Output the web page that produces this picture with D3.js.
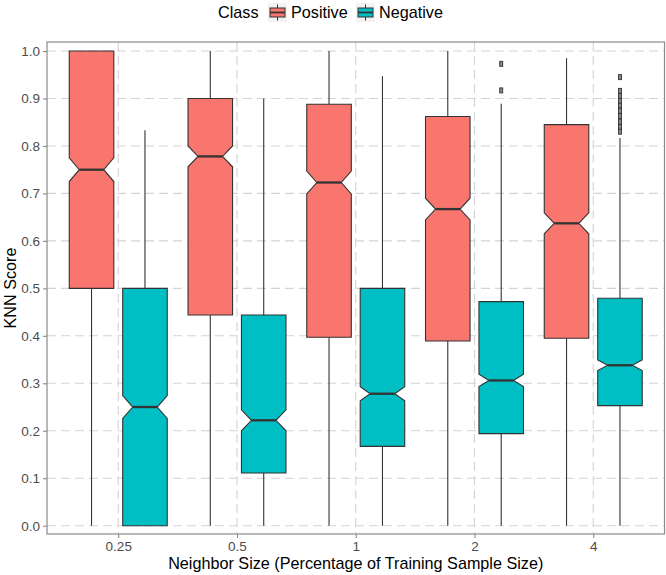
<!DOCTYPE html>
<html>
<head>
<meta charset="utf-8">
<script src="https://cdn.jsdelivr.net/npm/d3@7"></script>
<style>
  body { margin: 0; background: #fff; }
  svg { font-family: "Liberation Sans", Arial, sans-serif; }
</style>
</head>
<body>
<svg id="chart" width="666" height="575"></svg>
<script>
// categories
const neighborSizes = ["0.25", "0.5", "1", "2", "4"];
const classNames = ["Positive", "Negative"];
const classColors = ["#F8766D", "#00BFC4"];
const yTicks = [0, 0.1, 0.2, 0.3, 0.4, 0.5, 0.6, 0.7, 0.8, 0.9, 1.0];

// Positive class box stats
const posLow = [0, 0, 0, 0, 0];
const posQ1 = [0.5, 0.444, 0.397, 0.389, 0.395];
const posMedian = [0.75, 0.778, 0.723, 0.667, 0.637];
const posQ3 = [1.0, 0.9, 0.888, 0.862, 0.845];
const posHigh = [1.0, 1.0, 1.0, 1.0, 0.985];
const posNotch = [0.025, 0.022, 0.024, 0.023, 0.022];
const posOutliers = [[], [], [], [], []];

// Negative class box stats
const negLow = [0, 0, 0, 0, 0];
const negQ1 = [0, 0.111, 0.167, 0.194, 0.253];
const negMedian = [0.25, 0.222, 0.278, 0.306, 0.338];
const negQ3 = [0.5, 0.444, 0.5, 0.472, 0.479];
const negHigh = [0.833, 0.9, 0.947, 0.889, 0.817];
const negNotch = [0.024, 0.022, 0.015, 0.013, 0.011];
const negOutliers = [[], [], [], [0.973, 0.917],
    [0.945, 0.916, 0.905, 0.895, 0.885, 0.874, 0.863, 0.851, 0.840, 0.830]];

let boxes = [];
neighborSizes.forEach(function(n, i) {
    boxes.push({size: n, cls: 0, low: posLow[i], q1: posQ1[i], med: posMedian[i], q3: posQ3[i],
        high: posHigh[i], notch: posNotch[i], out: posOutliers[i]});
    boxes.push({size: n, cls: 1, low: negLow[i], q1: negQ1[i], med: negMedian[i], q3: negQ3[i],
        high: negHigh[i], notch: negNotch[i], out: negOutliers[i]});
});

let svg = d3.select("#chart");

let pLeft = 47, pRight = 664.5, pTop = 42, pBottom = 534;

let x = d3.scalePoint()
    .domain(neighborSizes)
    .range([pLeft, pRight])
    .padding(0.6);
let step = x.step();

let y = d3.scaleLinear()
    .domain([-0.0175, 1.019])
    .range([pBottom, pTop]);

let boxW = 0.375 * step;
let dodge = 0.225 * step;
let inset = 0.225 * boxW;

// grid
let grid = svg.append("g");
grid.selectAll(".hg")
    .data(yTicks)
    .join("line")
    .attr("x1", pLeft).attr("x2", pRight)
    .attr("y1", d => y(d)).attr("y2", d => y(d))
    .attr("stroke", "#d4d4d4")
    .attr("stroke-width", 1.1)
    .attr("stroke-dasharray", "9,5");
grid.selectAll(".vg")
    .data(neighborSizes)
    .join("line")
    .attr("x1", d => x(d)).attr("x2", d => x(d))
    .attr("y1", pTop).attr("y2", pBottom)
    .attr("stroke", "#d4d4d4")
    .attr("stroke-width", 1.1)
    .attr("stroke-dasharray", "9,5");

// boxes
let cx = d => x(d.size) + (d.cls === 0 ? -dodge : dodge);

let g = svg.append("g");
let bg = g.selectAll("g.box")
    .data(boxes)
    .join("g")
    .attr("class", "box");

// whiskers
bg.append("line")
    .attr("x1", cx).attr("x2", cx)
    .attr("y1", d => y(d.q3)).attr("y2", d => y(d.high))
    .attr("stroke", "#333").attr("stroke-width", 1.1);
bg.append("line")
    .attr("x1", cx).attr("x2", cx)
    .attr("y1", d => y(d.q1)).attr("y2", d => y(d.low))
    .attr("stroke", "#333").attr("stroke-width", 1.1);

// notched box
bg.append("path")
    .attr("d", function(d) {
        let c = cx(d), l = c - boxW / 2, r = c + boxW / 2;
        let p = d3.path();
        p.moveTo(l, y(d.q3));
        p.lineTo(r, y(d.q3));
        p.lineTo(r, y(d.med + d.notch));
        p.lineTo(r - inset, y(d.med));
        p.lineTo(r, y(d.med - d.notch));
        p.lineTo(r, y(d.q1));
        p.lineTo(l, y(d.q1));
        p.lineTo(l, y(d.med - d.notch));
        p.lineTo(l + inset, y(d.med));
        p.lineTo(l, y(d.med + d.notch));
        p.closePath();
        return p.toString();
    })
    .attr("fill", d => classColors[d.cls])
    .attr("stroke", "#333")
    .attr("stroke-width", 1.1);

// median
bg.append("line")
    .attr("x1", d => cx(d) - boxW / 2 + inset)
    .attr("x2", d => cx(d) + boxW / 2 - inset)
    .attr("y1", d => y(d.med)).attr("y2", d => y(d.med))
    .attr("stroke", "#333").attr("stroke-width", 2.3);

// outliers
bg.selectAll("rect.out")
    .data(d => d.out.map(v => ({v: v, c: cx(d)})))
    .join("rect")
    .attr("class", "out")
    .attr("x", d => d.c - 1.5).attr("y", d => y(d.v) - 2.5)
    .attr("width", 3).attr("height", 5)
    .attr("fill", "#888").attr("stroke", "#333").attr("stroke-width", 0.9);

// panel border
svg.append("rect")
    .attr("x", pLeft).attr("y", pTop)
    .attr("width", pRight - pLeft).attr("height", pBottom - pTop)
    .attr("fill", "none")
    .attr("stroke", "#8a8a8a")
    .attr("stroke-width", 1.2);

// axes
let yAxis = svg.append("g")
    .attr("transform", "translate(" + pLeft + ",0)")
    .call(d3.axisLeft(y).tickValues(yTicks).tickFormat(d3.format(".1f")).tickSize(4).tickPadding(3));
let xAxis = svg.append("g")
    .attr("transform", "translate(0," + pBottom + ")")
    .call(d3.axisBottom(x).tickSize(4).tickPadding(3));
[yAxis, xAxis].forEach(function(a) {
    a.select(".domain").remove();
    a.selectAll(".tick line").attr("stroke", "#8a8a8a").attr("stroke-width", 1.1);
    a.selectAll(".tick text")
        .attr("fill", "#4d4d4d")
        .style("font-size", "13.5px")
        .style("font-family", "Liberation Sans, Arial, sans-serif");
});

// axis titles
svg.append("text")
    .attr("x", (pLeft + pRight) / 2).attr("y", 569)
    .attr("text-anchor", "middle")
    .style("font-size", "16.2px")
    .text("Neighbor Size (Percentage of Training Sample Size)");
svg.append("text")
    .attr("transform", "translate(16," + (pTop + pBottom) / 2 + ") rotate(-90)")
    .attr("text-anchor", "middle")
    .style("font-size", "16.2px")
    .text("KNN Score");

// legend
let leg = svg.append("g").attr("transform", "translate(218,0)");
leg.append("text")
    .attr("x", 0).attr("y", 18)
    .style("font-size", "16.2px")
    .text("Class");
let keyX = [50, 138];
classNames.forEach(function(name, i) {
    let k = leg.append("g").attr("transform", "translate(" + keyX[i] + ",3)");
    k.append("rect").attr("width", 19).attr("height", 19).attr("fill", "#f2f2f2");
    k.append("line").attr("x1", 9.5).attr("x2", 9.5).attr("y1", 1.5).attr("y2", 17.5)
        .attr("stroke", "#333").attr("stroke-width", 1);
    k.append("rect").attr("x", 2).attr("y", 5).attr("width", 15).attr("height", 9)
        .attr("fill", classColors[i]).attr("stroke", "#333").attr("stroke-width", 1);
    k.append("line").attr("x1", 2).attr("x2", 17).attr("y1", 9.5).attr("y2", 9.5)
        .attr("stroke", "#333").attr("stroke-width", 1.8);
    leg.append("text")
        .attr("x", keyX[i] + 23).attr("y", 18)
        .style("font-size", "16.2px")
        .text(name);
});
</script>
</body>
</html>
